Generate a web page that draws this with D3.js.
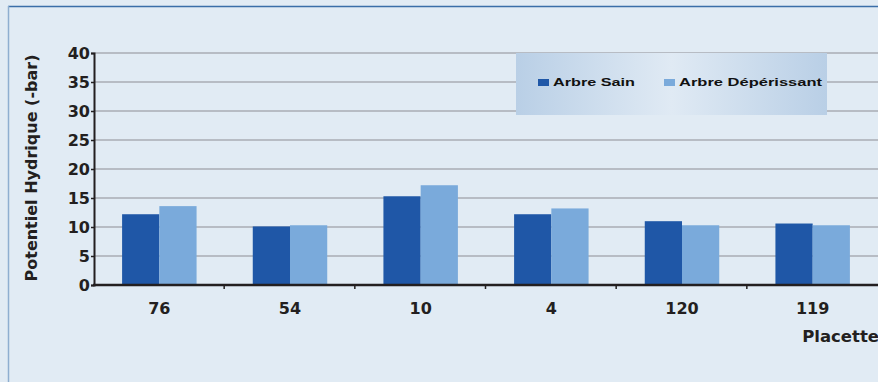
<!DOCTYPE html>
<html>
<head>
<meta charset="utf-8">
<script src="https://cdn.jsdelivr.net/npm/d3@7"></script>
<style>
  html, body { margin: 0; padding: 0; background: #e1ebf4; }
  svg { display: block; }
</style>
</head>
<body>
<svg id="chart" width="878" height="382"></svg>
<script>
// Water potential per plot, healthy vs declining trees
const placettes = ["76", "54", "10", "4", "120", "119"];
const arbreSain = [12.2, 10.1, 15.3, 12.2, 11.0, 10.6];
const arbreDeperissant = [13.6, 10.3, 17.2, 13.2, 10.3, 10.3];
const seriesNames = ["Arbre Sain", "Arbre Dépérissant"];
const seriesColors = ["#1f57a7", "#7aaadb"];
const yTicks = [0, 5, 10, 15, 20, 25, 30, 35, 40];

const W = 878, H = 382;
const margin = { left: 94, right: 0, top: 53, bottom: 97 };
const svg = d3.select("#chart");
const axisFont = "'DejaVu Sans', Verdana, sans-serif";
const legendFont = "'Liberation Sans', Arial, sans-serif";
const ink = "#231f20";

// panel background and frame
svg.append("rect").attr("width", W).attr("height", H).attr("fill", "#e1ebf4");
svg.append("line").attr("x1", 8).attr("x2", W).attr("y1", 6.5).attr("y2", 6.5)
  .attr("stroke", "#3a6ea8").attr("stroke-width", 1.5);
svg.append("line").attr("x1", 8.5).attr("x2", 8.5).attr("y1", 6).attr("y2", H)
  .attr("stroke", "#8eaed0").attr("stroke-width", 1.5);

const x0 = d3.scaleBand().domain(placettes)
  .range([margin.left, W - margin.right]).paddingInner(0.43).paddingOuter(0.215);
const x1 = d3.scaleBand().domain(seriesNames).range([0, x0.bandwidth()]);
const y = d3.scaleLinear().domain([0, 40]).range([H - margin.bottom, margin.top]);

// horizontal gridlines
svg.append("g").selectAll("line").data(yTicks.filter(d => d > 0)).join("line")
  .attr("x1", margin.left).attr("x2", W)
  .attr("y1", d => y(d)).attr("y2", d => y(d))
  .attr("stroke", "#a8adb4").attr("stroke-width", 1.5);

// bars
const rows = placettes.map((p, i) => ({ p, vals: [arbreSain[i], arbreDeperissant[i]] }));
const groups = svg.append("g").selectAll("g").data(rows).join("g")
  .attr("transform", d => `translate(${x0(d.p)},0)`);
groups.selectAll("rect").data(d => d.vals.map((v, j) => ({ v, s: seriesNames[j], c: seriesColors[j] })))
  .join("rect")
  .attr("x", d => x1(d.s)).attr("width", x1.bandwidth())
  .attr("y", d => y(d.v)).attr("height", d => y(0) - y(d.v))
  .attr("fill", d => d.c);

// y axis
const yAxis = svg.append("g").attr("transform", `translate(${margin.left},0)`)
  .call(d3.axisLeft(y).tickValues(yTicks).tickSize(3).tickPadding(1));
yAxis.select(".domain").attr("stroke", ink).attr("stroke-width", 2);
yAxis.selectAll(".tick line").attr("stroke", ink).attr("stroke-width", 1.5);
yAxis.selectAll(".tick text").attr("font-family", axisFont).attr("font-weight", "bold")
  .attr("font-size", 16).attr("fill", ink).attr("dy", "0.36em");

// x axis with small ticks at the category boundaries
const xBase = svg.append("g").attr("transform", `translate(0,${y(0)})`);
xBase.append("line").attr("x1", margin.left - 1).attr("x2", W)
  .attr("stroke", ink).attr("stroke-width", 2.5);
const step = x0.step();
xBase.selectAll(".sep").data(placettes.slice(1)).join("line").attr("class", "sep")
  .attr("x1", d => x0(d) - step * x0.paddingInner() / 2 - 0.5)
  .attr("x2", d => x0(d) - step * x0.paddingInner() / 2 - 0.5)
  .attr("y1", 0).attr("y2", 4).attr("stroke", ink).attr("stroke-width", 1.5);
xBase.selectAll(".lbl").data(placettes).join("text").attr("class", "lbl")
  .attr("x", d => x0(d) + x0.bandwidth() / 2).attr("y", 29)
  .attr("text-anchor", "middle").attr("font-family", axisFont).attr("font-weight", "bold")
  .attr("font-size", 16).attr("fill", ink).text(d => d);

// axis titles
svg.append("text").attr("x", 879).attr("y", 342).attr("text-anchor", "end")
  .attr("font-family", axisFont).attr("font-weight", "bold").attr("font-size", 16.5)
  .attr("fill", ink).text("Placette");
svg.append("text").attr("transform", "translate(37,168) rotate(-90)")
  .attr("text-anchor", "middle").attr("font-family", axisFont).attr("font-weight", "bold")
  .attr("font-size", 16).attr("fill", ink).text("Potentiel Hydrique (-bar)");

// legend box with horizontal gradient
const defs = svg.append("defs");
const grad = defs.append("linearGradient").attr("id", "legGrad")
  .attr("x1", "0%").attr("x2", "100%").attr("y1", "0%").attr("y2", "0%");
grad.append("stop").attr("offset", "0%").attr("stop-color", "#b9cfe6");
grad.append("stop").attr("offset", "50%").attr("stop-color", "#e0eaf4");
grad.append("stop").attr("offset", "100%").attr("stop-color", "#b9cfe6");
const leg = svg.append("g").attr("transform", "translate(516,53)");
leg.append("rect").attr("width", 311).attr("height", 62).attr("fill", "url(#legGrad)");
const legX = [22, 148];
const legLen = [82, 143];
seriesNames.forEach((s, i) => {
  leg.append("rect").attr("x", legX[i]).attr("y", 26).attr("width", 11).attr("height", 7)
    .attr("fill", seriesColors[i]);
  leg.append("text").attr("x", legX[i] + 15).attr("y", 33)
    .attr("font-family", legendFont).attr("font-weight", "bold").attr("font-size", 11.5)
    .attr("textLength", legLen[i]).attr("lengthAdjust", "spacingAndGlyphs")
    .attr("fill", "#111").text(s);
});
</script>
</body>
</html>
